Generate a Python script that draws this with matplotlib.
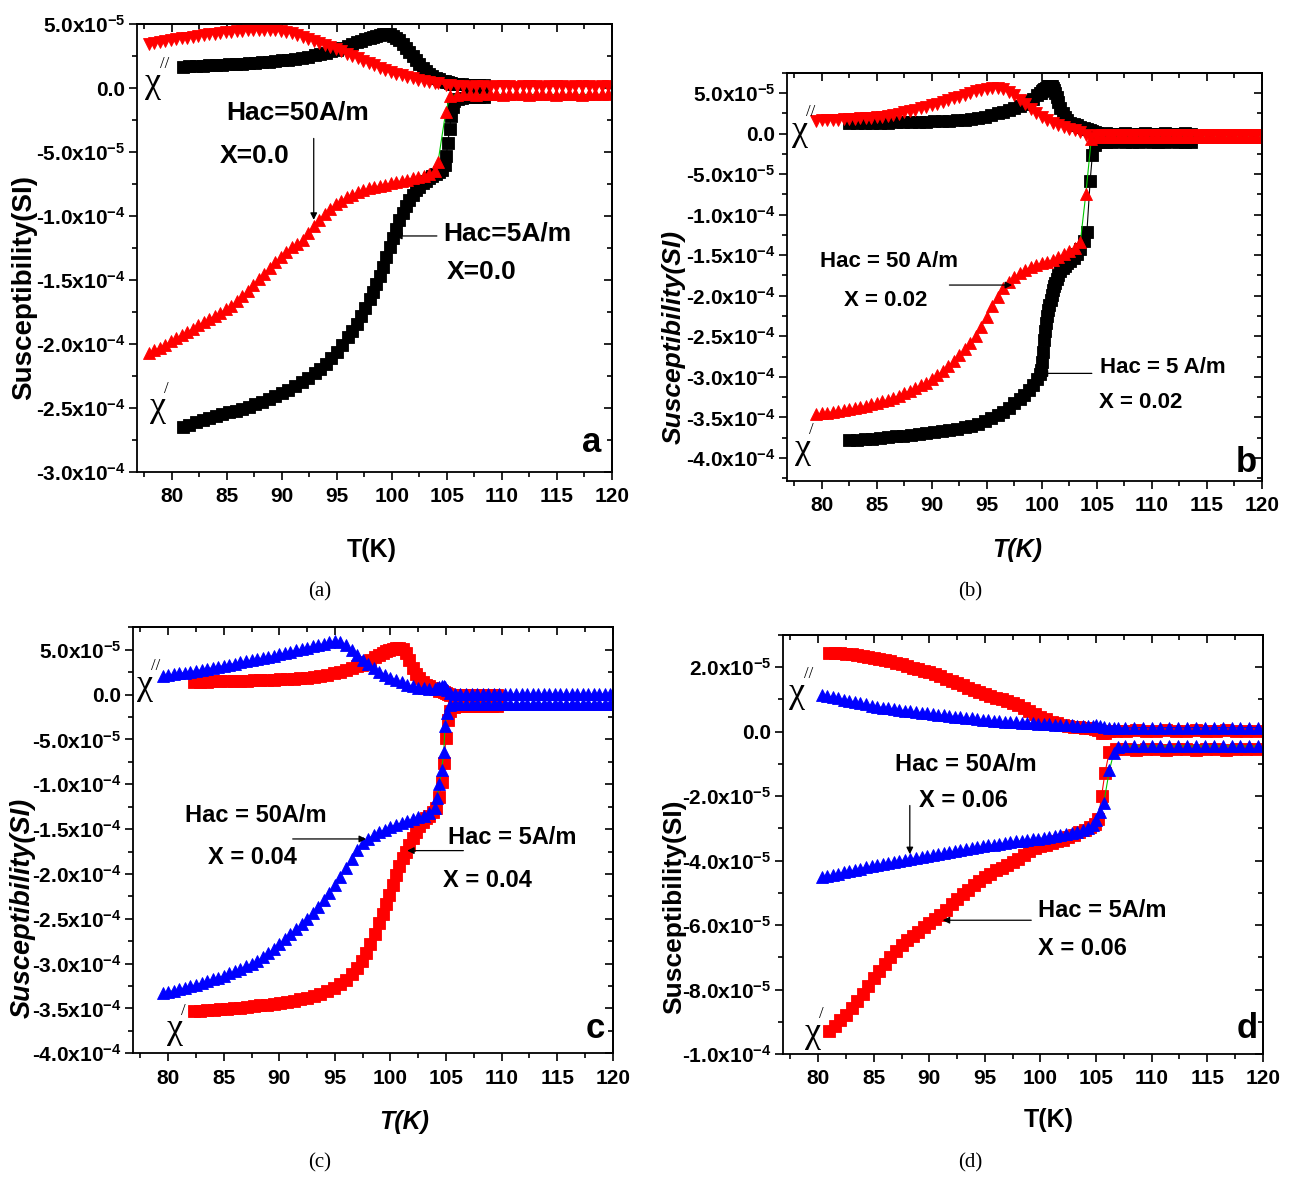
import numpy as np
import matplotlib
matplotlib.use('Agg')
import matplotlib.pyplot as plt
from matplotlib.ticker import MultipleLocator, FuncFormatter
from matplotlib import font_manager as fm

# ---------------- data (susceptibility in units of 1e-5 SI) ----------------
# panel a, X = 0.0
T_a5 = [81.0, 81.6, 82.2, 82.8, 83.4, 84.0, 84.6, 85.2, 85.8, 86.4, 87.0, 87.6, 88.2, 88.8, 89.4, 90.0,
        90.6, 91.2, 91.8, 92.4, 93.0, 93.5, 94.0, 94.5, 95.0, 95.5, 96.0, 96.4, 96.8, 97.2, 97.6, 98.0,
        98.3, 98.6, 98.9, 99.2, 99.5, 99.8, 100.1, 100.4, 100.7, 101.0, 101.3, 101.6, 101.9, 102.2, 102.5,
        102.8, 103.1, 103.4, 103.7, 104.0, 104.3, 104.6, 104.8, 104.95, 105.1, 105.25, 105.4, 105.55,
        105.7, 106.0, 106.4, 106.9, 107.4, 107.9, 108.4]
chi1_a5 = [-26.5, -26.3, -26.1, -25.95, -25.8, -25.65, -25.5, -25.35, -25.2, -25.05, -24.9, -24.7, -24.5,
           -24.3, -24.1, -23.85, -23.6, -23.3, -23.0, -22.65, -22.3, -21.95, -21.55, -21.1, -20.6, -20.05,
           -19.45, -18.95, -18.4, -17.8, -17.15, -16.45, -15.9, -15.3, -14.65, -13.95, -13.2, -12.45, -11.7,
           -11.0, -10.35, -9.75, -9.2, -8.75, -8.35, -8.0, -7.7, -7.45, -7.25, -7.05, -6.9, -6.75, -6.6,
           -6.4, -6.0, -5.3, -4.3, -3.2, -2.2, -1.45, -1.05, -0.85, -0.75, -0.72, -0.7, -0.7, -0.7]
chi2_a5 = [1.67, 1.69, 1.71, 1.73, 1.76, 1.79, 1.82, 1.85, 1.88, 1.91, 1.94, 1.98, 2.02, 2.06, 2.1, 2.15,
           2.21, 2.28, 2.36, 2.45, 2.56, 2.66, 2.77, 2.88, 3.0, 3.13, 3.28, 3.42, 3.56, 3.69, 3.8, 3.92,
           4.02, 4.1, 4.17, 4.22, 4.24, 4.2, 4.1, 3.94, 3.72, 3.45, 3.15, 2.82, 2.5, 2.18, 1.88, 1.6, 1.35,
           1.12, 0.94, 0.8, 0.68, 0.58, 0.52, 0.48, 0.44, 0.4, 0.37, 0.34, 0.32, 0.3, 0.28, 0.26, 0.25,
           0.24, 0.24]

T_a50 = [77.9, 78.4, 78.9, 79.4, 79.9, 80.4, 80.9, 81.4, 81.9, 82.4, 82.9, 83.4, 83.9, 84.4, 84.9, 85.4,
         85.9, 86.4, 86.9, 87.4, 87.9, 88.4, 88.9, 89.4, 89.9, 90.4, 90.9, 91.4, 91.9, 92.4, 92.9, 93.4,
         93.9, 94.4, 94.9, 95.4, 95.9, 96.4, 96.9, 97.4, 97.9, 98.4, 98.9, 99.4, 99.9, 100.4, 100.9, 101.4,
         101.9, 102.4, 102.9, 103.4, 103.9, 104.2, 104.9, 105.3, 105.9, 106.5, 107.1, 107.7, 108.3, 108.9,
         109.5, 110.1, 110.7, 111.3, 111.9, 112.5, 113.1, 113.7, 114.3, 114.9, 115.5, 116.1, 116.7, 117.3,
         117.9, 118.5, 119.1, 119.7]
chi1_a50 = [-20.7, -20.5, -20.3, -20.05, -19.8, -19.55, -19.3, -19.05, -18.8, -18.55, -18.3, -18.05, -17.8,
            -17.55, -17.3, -17.0, -16.65, -16.25, -15.85, -15.4, -14.95, -14.5, -14.05, -13.6, -13.2, -12.8,
            -12.45, -12.2, -11.85, -11.3, -10.8, -10.3, -9.85, -9.45, -9.1, -8.8, -8.55, -8.35, -8.15, -8.0,
            -7.85, -7.75, -7.65, -7.55, -7.45, -7.35, -7.25, -7.15, -7.05, -6.95, -6.85, -6.7, -6.5, -5.8,
            -1.9, -0.6, -0.52, -0.5, -0.5, -0.51, -0.5, -0.5, -0.5, -0.51, -0.5, -0.5, -0.5, -0.51, -0.5,
            -0.5, -0.5, -0.51, -0.5, -0.5, -0.5, -0.51, -0.5, -0.5, -0.5, -0.5]
chi2_a50 = [3.45, 3.55, 3.63, 3.7, 3.76, 3.82, 3.88, 3.94, 4.0, 4.06, 4.12, 4.18, 4.24, 4.3, 4.35, 4.4,
            4.45, 4.49, 4.52, 4.54, 4.55, 4.55, 4.53, 4.5, 4.45, 4.38, 4.28, 4.16, 4.02, 3.86, 3.7, 3.53,
            3.36, 3.2, 3.03, 2.86, 2.68, 2.5, 2.32, 2.14, 1.96, 1.78, 1.6, 1.42, 1.26, 1.11, 0.98, 0.86,
            0.75, 0.65, 0.55, 0.47, 0.4, 0.36, 0.25, 0.2, 0.12, 0.12, 0.11, 0.12, 0.12, 0.11, 0.12, 0.12,
            0.12, 0.11, 0.12, 0.12, 0.12, 0.11, 0.12, 0.12, 0.12, 0.11, 0.12, 0.12, 0.12, 0.11, 0.12, 0.12]

# panel b, X = 0.02
T_b5 = [82.5, 83.2, 83.9, 84.6, 85.3, 86.0, 86.7, 87.4, 88.1, 88.8, 89.5, 90.2, 90.9, 91.6, 92.3, 93.0,
        93.6, 94.2, 94.8, 95.4, 96.0, 96.5, 97.0, 97.5, 98.0, 98.4, 98.8, 99.2, 99.6, 99.8, 99.9, 100.0,
        100.1, 100.2, 100.3, 100.4, 100.5, 100.6, 100.7, 100.8, 100.9, 101.0, 101.1, 101.2, 101.35, 101.5,
        101.7, 101.9, 102.1, 102.3, 102.6, 102.9, 103.2, 103.5, 103.8, 104.1, 104.4, 104.6, 104.8, 105.0,
        105.3, 105.8, 106.4, 107.0, 107.6, 108.2, 108.8, 109.4, 110.0, 110.6, 111.2, 111.8, 112.4, 113.0,
        113.6]
chi1_b5 = [-37.8, -37.75, -37.7, -37.65, -37.55, -37.45, -37.35, -37.25, -37.15, -37.05, -36.95, -36.85,
           -36.7, -36.55, -36.4, -36.2, -36.0, -35.75, -35.45, -35.1, -34.7, -34.3, -33.8, -33.25, -32.7,
           -32.2, -31.6, -31.0, -30.3, -29.7, -29.2, -28.2, -26.9, -25.5, -24.3, -23.3, -22.5, -21.8, -21.1,
           -20.5, -19.9, -19.3, -18.8, -18.4, -17.9, -17.5, -17.0, -16.6, -16.3, -16.0, -15.7, -15.35,
           -14.9, -14.2, -13.3, -12.2, -5.8, -2.6, -1.4, -1.1, -1.0, -1.0, -1.0, -0.98, -1.0, -1.0, -1.0,
           -0.98, -1.0, -1.0, -1.0, -0.98, -1.0, -1.0, -1.0]
chi2_b5 = [1.25, 1.27, 1.29, 1.31, 1.33, 1.35, 1.37, 1.39, 1.41, 1.44, 1.47, 1.5, 1.54, 1.58, 1.63, 1.7,
           1.8, 1.95, 2.1, 2.3, 2.5, 2.65, 2.85, 3.1, 3.4, 3.65, 3.95, 4.3, 4.75, 4.95, 5.05, 5.2, 5.35,
           5.45, 5.55, 5.65, 5.75, 5.8, 5.85, 5.85, 5.8, 5.65, 5.4, 5.05, 4.5, 3.9, 3.2, 2.5, 2.0, 1.65,
           1.35, 1.15, 1.0, 0.85, 0.72, 0.6, 0.45, 0.3, 0.15, 0.05, 0.0, 0.02, 0.0, 0.0, 0.02, 0.0, 0.0,
           0.02, 0.0, 0.0, 0.02, 0.0, 0.0, 0.02, 0.0]

T_b50 = [79.5, 80.0, 80.5, 81.0, 81.5, 82.0, 82.5, 83.0, 83.5, 84.0, 84.5, 85.0, 85.5, 86.0, 86.5, 87.0,
         87.5, 88.0, 88.5, 89.0, 89.5, 90.0, 90.5, 91.0, 91.5, 92.0, 92.5, 93.0, 93.5, 94.0, 94.5, 95.0,
         95.5, 96.0, 96.5, 97.0, 97.5, 98.0, 98.5, 99.0, 99.5, 100.0, 100.5, 101.0, 101.5, 102.0, 102.5,
         103.0, 103.5, 104.0, 104.5, 105.0, 105.5, 106.0, 106.5, 107.0, 107.5, 108.0, 108.5, 109.0, 109.5,
         110.0, 110.5, 111.0, 111.5, 112.0, 112.5, 113.0, 113.5, 114.0, 114.5, 115.0, 115.5, 116.0, 116.5,
         117.0, 117.5, 118.0, 118.5, 119.0, 119.5, 120.0]
chi1_b50 = [-34.6, -34.5, -34.4, -34.3, -34.2, -34.1, -34.0, -33.85, -33.7, -33.55, -33.4, -33.2, -33.0,
            -32.8, -32.55, -32.3, -32.0, -31.7, -31.4, -31.05, -30.7, -30.3, -29.8, -29.25, -28.65, -28.0,
            -27.3, -26.6, -25.8, -24.9, -23.8, -22.6, -21.3, -20.1, -19.1, -18.3, -17.7, -17.2, -16.8,
            -16.45, -16.2, -16.0, -15.8, -15.55, -15.25, -14.9, -14.5, -14.1, -13.4, -7.5, -0.7,
            -0.45, -0.45, -0.46, -0.45, -0.45, -0.45, -0.46, -0.45, -0.45, -0.45, -0.46, -0.45, -0.45, -0.45,
            -0.46, -0.45, -0.45, -0.45, -0.46, -0.45, -0.45, -0.45, -0.46, -0.45, -0.45, -0.45, -0.46,
            -0.45, -0.45, -0.45, -0.45]
chi2_b50 = [1.6, 1.63, 1.66, 1.69, 1.72, 1.75, 1.79, 1.83, 1.87, 1.92, 1.97, 2.02, 2.1, 2.2, 2.32, 2.45,
            2.6, 2.76, 2.93, 3.1, 3.28, 3.47, 3.67, 3.88, 4.1, 4.32, 4.55, 4.78, 5.0, 5.2, 5.38, 5.52, 5.6,
            5.6, 5.45, 5.15, 4.7, 4.15, 3.6, 3.05, 2.55, 2.1, 1.7, 1.35, 1.05, 0.8, 0.58, 0.4, 0.2, -0.2,
            -0.5, -0.15, -0.15, -0.14, -0.15, -0.15, -0.15, -0.14, -0.15, -0.15, -0.15, -0.14, -0.15,
            -0.15, -0.15, -0.14, -0.15, -0.15, -0.15, -0.14, -0.15, -0.15, -0.15, -0.14, -0.15, -0.15,
            -0.15, -0.14, -0.15, -0.15, -0.15, -0.15]

# panel c, X = 0.04
T_c5 = [82.3, 82.9, 83.5, 84.1, 84.7, 85.3, 85.9, 86.5, 87.1, 87.7, 88.3, 88.9, 89.5, 90.1, 90.7, 91.3,
        91.9, 92.5, 93.1, 93.7, 94.3, 94.9, 95.5, 96.0, 96.5, 97.0, 97.4, 97.8, 98.2, 98.6, 99.0, 99.3,
        99.6, 99.9, 100.2, 100.5, 100.8, 101.1, 101.4, 101.7, 102.0, 102.3, 102.6, 102.9, 103.2, 103.5,
        103.8, 104.1, 104.4, 104.6, 104.8, 105.0, 105.2, 105.4, 105.7, 106.1, 106.6, 107.1, 107.6, 108.1,
        108.6, 109.1, 109.6]
chi1_c5 = [-35.3, -35.25, -35.2, -35.15, -35.1, -35.05, -34.98, -34.9, -34.82, -34.74, -34.66, -34.57,
           -34.48, -34.38, -34.27, -34.15, -34.0, -33.85, -33.65, -33.4, -33.1, -32.75, -32.3, -31.8,
           -31.2, -30.45, -29.7, -28.8, -27.8, -26.7, -25.5, -24.5, -23.4, -22.3, -21.2, -20.1, -19.1,
           -18.2, -17.5, -16.8, -16.0, -15.3, -14.7, -14.2, -13.8, -13.5, -13.1, -12.6, -11.4, -9.8, -7.6,
           -4.8, -2.8, -1.8, -1.4, -1.25, -1.25, -1.26, -1.25, -1.25, -1.26, -1.25, -1.25]
chi2_c5 = [1.4, 1.42, 1.44, 1.46, 1.48, 1.5, 1.52, 1.54, 1.56, 1.58, 1.6, 1.63, 1.66, 1.7, 1.74, 1.78,
           1.83, 1.89, 1.96, 2.06, 2.2, 2.38, 2.55, 2.72, 2.92, 3.15, 3.35, 3.6, 3.85, 4.15, 4.45, 4.65,
           4.85, 5.0, 5.1, 5.15, 5.15, 5.05, 4.6, 3.8, 2.95, 2.3, 1.8, 1.4, 1.1, 0.9, 0.75, 0.6, 0.45,
           0.35, 0.25, 0.15, 0.05, 0.0, -0.05, -0.05, -0.05, -0.06, -0.05, -0.05, -0.06, -0.05, -0.05]

T_c50 = [79.5, 80.0, 80.5, 81.0, 81.5, 82.0, 82.5, 83.0, 83.5, 84.0, 84.5, 85.0, 85.5, 86.0, 86.5, 87.0,
         87.5, 88.0, 88.5, 89.0, 89.5, 90.0, 90.5, 91.0, 91.5, 92.0, 92.5, 93.0, 93.5, 94.0, 94.5, 95.0,
         95.5, 96.0, 96.5, 97.0, 97.5, 98.0, 98.5, 99.0, 99.5, 100.0, 100.5, 101.0, 101.5, 102.0, 102.5,
         103.0, 103.5, 104.0, 104.2, 104.4, 104.6, 104.8, 104.9, 105.1, 105.4, 105.8, 106.3, 106.8, 107.3,
         107.8, 108.3, 108.8, 109.3, 109.8, 110.3, 110.8, 111.3, 111.8, 112.3, 112.8, 113.3, 113.8, 114.3,
         114.8, 115.3, 115.8, 116.3, 116.8, 117.3, 117.8, 118.3, 118.8, 119.3, 119.8]
chi1_c50 = [-33.3, -33.15, -33.0, -32.85, -32.7, -32.55, -32.35, -32.15, -31.95, -31.75, -31.55, -31.35,
            -31.1, -30.85, -30.6, -30.3, -30.0, -29.7, -29.3, -28.85, -28.35, -27.8, -27.25, -26.7, -26.15,
            -25.6, -25.0, -24.35, -23.65, -22.9, -22.1, -21.25, -20.3, -19.3, -18.3, -17.35, -16.6, -16.05,
            -15.65, -15.35, -15.05, -14.75, -14.5, -14.3, -14.1, -13.9, -13.7, -13.5, -13.2, -12.6, -11.5,
            -10.0, -8.4, -6.4, -3.5, -2.1, -1.2, -1.0, -1.0, -1.02, -1.0, -1.0, -1.0, -1.02, -1.0, -1.0,
            -1.0, -1.02, -1.0, -1.0, -1.0, -1.02, -1.0, -1.0, -1.0, -1.02, -1.0, -1.0, -1.0, -1.02, -1.0,
            -1.0, -1.0, -1.02, -1.0, -1.0]
chi2_c50 = [2.05, 2.15, 2.25, 2.35, 2.45, 2.55, 2.65, 2.76, 2.87, 2.98, 3.1, 3.22, 3.34, 3.46, 3.58, 3.7,
            3.82, 3.95, 4.08, 4.21, 4.35, 4.49, 4.63, 4.77, 4.92, 5.07, 5.22, 5.37, 5.52, 5.68, 5.85, 5.95,
            5.85, 5.5, 5.0, 4.45, 3.9, 3.4, 2.95, 2.55, 2.2, 1.9, 1.6, 1.35, 1.1, 0.9, 0.78, 0.7, 0.65,
            0.65, 0.7, 0.8, 0.9, 0.95, 0.85, 0.5, 0.2, 0.05, 0.05, 0.06, 0.05, 0.05, 0.05, 0.06, 0.05,
            0.05, 0.05, 0.06, 0.05, 0.05, 0.05, 0.06, 0.05, 0.05, 0.05, 0.06, 0.05, 0.05, 0.05, 0.06, 0.05,
            0.05, 0.05, 0.06, 0.05, 0.05]

# panel d, X = 0.06
T_d5 = [81.0, 81.5, 82.0, 82.5, 83.0, 83.5, 84.0, 84.5, 85.0, 85.5, 86.0, 86.5, 87.0, 87.5, 88.0, 88.5,
        89.0, 89.5, 90.0, 90.5, 91.0, 91.5, 92.0, 92.5, 93.0, 93.5, 94.0, 94.5, 95.0, 95.5, 96.0, 96.5,
        97.0, 97.5, 98.0, 98.5, 99.0, 99.5, 100.0, 100.5, 101.0, 101.5, 102.0, 102.5, 103.0, 103.5, 104.0,
        104.5, 104.9, 105.2, 105.5, 105.8, 106.2, 106.8, 107.7, 108.6, 109.5, 110.4, 111.3, 112.2, 113.1,
        114.0, 114.9, 115.8, 116.7, 117.6, 118.5, 119.4]
chi1_d5 = [-9.3, -9.12, -8.95, -8.78, -8.58, -8.37, -8.15, -7.9, -7.65, -7.42, -7.2, -7.0, -6.8, -6.63,
           -6.47, -6.33, -6.2, -6.07, -5.95, -5.82, -5.7, -5.52, -5.35, -5.2, -5.05, -4.9, -4.75, -4.62,
           -4.5, -4.4, -4.3, -4.22, -4.15, -4.05, -3.95, -3.82, -3.7, -3.62, -3.55, -3.5, -3.45, -3.4,
           -3.35, -3.28, -3.2, -3.12, -3.05, -2.95, -2.85, -2.7, -2.0, -1.28, -0.62, -0.55, -0.55, -0.56,
           -0.55, -0.55, -0.56, -0.55, -0.55, -0.56, -0.55, -0.55, -0.56, -0.55, -0.55, -0.55]
chi2_d5 = [2.44, 2.44, 2.43, 2.42, 2.41, 2.39, 2.36, 2.33, 2.3, 2.26, 2.22, 2.18, 2.14, 2.09, 2.04, 1.99,
           1.94, 1.89, 1.84, 1.78, 1.72, 1.65, 1.58, 1.51, 1.44, 1.37, 1.3, 1.23, 1.16, 1.1, 1.05, 1.0,
           0.96, 0.9, 0.82, 0.72, 0.63, 0.54, 0.46, 0.38, 0.31, 0.26, 0.22, 0.19, 0.16, 0.14, 0.12, 0.1,
           0.08, 0.05, -0.05, -0.03, 0.02, 0.03, 0.03, 0.04, 0.03, 0.03, 0.04, 0.03, 0.03, 0.04, 0.03,
           0.03, 0.04, 0.03, 0.03, 0.03]

T_d50 = [80.3, 80.8, 81.3, 81.8, 82.3, 82.8, 83.3, 83.8, 84.3, 84.8, 85.3, 85.8, 86.3, 86.8, 87.3, 87.8,
         88.3, 88.8, 89.3, 89.8, 90.3, 90.8, 91.3, 91.8, 92.3, 92.8, 93.3, 93.8, 94.3, 94.8, 95.3, 95.8,
         96.3, 96.8, 97.3, 97.8, 98.3, 98.8, 99.3, 99.8, 100.3, 100.8, 101.3, 101.8, 102.3, 102.8, 103.3,
         103.8, 104.3, 104.7, 105.0, 105.4, 105.7, 106.2, 106.6, 107.0, 107.6, 108.4, 109.2, 110.0, 110.8,
         111.6, 112.4, 113.2, 114.0, 114.8, 115.6, 116.4, 117.2, 118.0, 118.8, 119.6]
chi1_d50 = [-4.52, -4.48, -4.44, -4.4, -4.36, -4.33, -4.29, -4.25, -4.21, -4.17, -4.13, -4.1, -4.07, -4.04,
            -4.01, -3.98, -3.95, -3.92, -3.89, -3.86, -3.83, -3.8, -3.77, -3.74, -3.71, -3.68, -3.65, -3.62,
            -3.59, -3.56, -3.53, -3.5, -3.48, -3.45, -3.43, -3.4, -3.38, -3.36, -3.34, -3.32, -3.29, -3.27,
            -3.24, -3.21, -3.18, -3.14, -3.1, -3.05, -2.98, -2.9, -2.75, -2.5, -2.2, -1.2, -0.65, -0.48,
            -0.44, -0.44, -0.45, -0.44, -0.44, -0.45, -0.44, -0.44, -0.45, -0.44, -0.44, -0.45, -0.44,
            -0.44, -0.45, -0.44]
chi2_d50 = [1.15, 1.11, 1.07, 1.03, 0.99, 0.96, 0.92, 0.88, 0.85, 0.81, 0.78, 0.75, 0.72, 0.7, 0.68, 0.65,
            0.63, 0.61, 0.59, 0.57, 0.55, 0.53, 0.51, 0.49, 0.47, 0.45, 0.43, 0.41, 0.39, 0.37, 0.35, 0.33,
            0.32, 0.31, 0.3, 0.29, 0.28, 0.27, 0.26, 0.25, 0.24, 0.23, 0.22, 0.21, 0.2, 0.2, 0.19, 0.19,
            0.18, 0.18, 0.2, 0.17, 0.14, 0.12, 0.12, 0.12, 0.12, 0.12, 0.13, 0.12, 0.12, 0.13, 0.12, 0.12,
            0.13, 0.12, 0.12, 0.13, 0.12, 0.12, 0.13, 0.12]

# ---------------- fonts ----------------
try:
    fm.findfont(fm.FontProperties(family='Liberation Sans Narrow', weight='bold'), fallback_to_default=False)
    TICK_FONT, TICK_SIZE = 'Liberation Sans Narrow', 17.5
except ValueError:
    TICK_FONT, TICK_SIZE = 'Liberation Sans', 15

plt.rcParams['font.family'] = [TICK_FONT, 'DejaVu Sans']
plt.rcParams['font.weight'] = 'bold'
plt.rcParams['mathtext.fontset'] = 'custom'
plt.rcParams['mathtext.rm'] = TICK_FONT + ':bold'
plt.rcParams['mathtext.it'] = TICK_FONT + ':bold'
plt.rcParams['mathtext.bf'] = TICK_FONT + ':bold'
plt.rcParams['mathtext.default'] = 'rm'

SANS = 'Liberation Sans'
SERIF = 'Liberation Serif'
W, H = 1291, 1178
GREEN = '#00c800'
MS_SQ, MS_TRI = 8.5, 9


def sci_label(v, pos):
    if abs(v) < 1e-12:
        return '0.0'
    e = int(np.floor(np.log10(abs(v)) + 1e-9))
    sign = '-' if v < 0 else ''
    return '%s%.1fx10$^{%d}$' % (sign, abs(v) / 10.0 ** e, e)


def make_axes(px_box, ylim, ymaj, ymin):
    left, top, right, bottom = px_box
    ax = fig.add_axes([left / W, 1 - bottom / H, (right - left) / W, (bottom - top) / H])
    ax.set_xlim(76.8, 120)
    ax.set_ylim(*ylim)
    ax.xaxis.set_major_locator(MultipleLocator(5))
    ax.xaxis.set_minor_locator(MultipleLocator(2.5))
    ax.yaxis.set_major_locator(MultipleLocator(ymaj))
    ax.yaxis.set_minor_locator(MultipleLocator(ymin))
    ax.xaxis.set_major_formatter(FuncFormatter(lambda v, p: '%d' % round(v)))
    ax.yaxis.set_major_formatter(FuncFormatter(sci_label))
    ax.tick_params(which='both', direction='out', top=False, right=False, width=1.2,
                   labelsize=TICK_SIZE)
    ax.tick_params(which='major', length=6)
    ax.tick_params(which='minor', length=3.5)
    ax.tick_params(axis='x', pad=5)
    ax.tick_params(axis='y', pad=2)
    for s in ax.spines.values():
        s.set_linewidth(1.3)
    # inward ticks on top and right like Origin
    secx = ax.secondary_xaxis('top')
    secx.xaxis.set_major_locator(MultipleLocator(5))
    secx.xaxis.set_minor_locator(MultipleLocator(2.5))
    secx.tick_params(which='both', direction='in', labeltop=False, width=1.2)
    secx.tick_params(which='major', length=6)
    secx.tick_params(which='minor', length=3.5)
    secx.spines['top'].set_linewidth(1.3)
    secy = ax.secondary_yaxis('right')
    secy.yaxis.set_major_locator(MultipleLocator(ymaj))
    secy.yaxis.set_minor_locator(MultipleLocator(ymin))
    secy.tick_params(which='both', direction='in', labelright=False, width=1.2)
    secy.tick_params(which='major', length=6)
    secy.tick_params(which='minor', length=3.5)
    secy.spines['right'].set_linewidth(1.3)
    return ax


def draw(ax, T, chi, marker, color, line, ms):
    ax.plot(T, np.array(chi) * 1e-5, color=line, lw=0.8, marker=marker, ms=ms,
            mfc=color, mec=color, mew=0.6)


def chi_labels(ax, p2, p1):
    ax.text(p2[0], p2[1] * 1e-5, 'χ', family=SERIF, weight='normal', fontsize=26, ha='center', va='center')
    ax.annotate('//', (p2[0], p2[1] * 1e-5), xytext=(8, 14), textcoords='offset points',
                family=SERIF, weight='normal', fontsize=12, ha='center', va='center')
    ax.text(p1[0], p1[1] * 1e-5, 'χ', family=SERIF, weight='normal', fontsize=26, ha='center', va='center')
    ax.annotate('/', (p1[0], p1[1] * 1e-5), xytext=(6, 14), textcoords='offset points',
                family=SERIF, weight='normal', fontsize=12, ha='center', va='center')


def notes(ax, items, size):
    for txt, x, y in items:
        ax.text(x, y * 1e-5, txt, family=SANS, weight='bold', fontsize=size, ha='left', va='center')


def arrow(ax, tail, tip):
    ax.annotate('', xy=(tip[0], tip[1] * 1e-5), xytext=(tail[0], tail[1] * 1e-5),
                arrowprops=dict(arrowstyle='-|>', color='black', lw=0.9, mutation_scale=10,
                                shrinkA=0, shrinkB=0))


def labels(ax, letter, lx, ly, ylab, xlab, cap, style, ysize):
    ax.text(lx, ly, letter, transform=ax.transAxes, family=SANS, weight='bold', fontsize=25,
            ha='right', va='baseline')
    fig.text(ylab[0] / W, 1 - ylab[1] / H, 'Susceptibility(SI)', rotation=90, family=SANS,
             weight='bold', style=style, fontsize=ysize, ha='center', va='center')
    fig.text(xlab[0] / W, 1 - xlab[1] / H, 'T(K)', family=SANS, weight='bold', style=style,
             fontsize=18, ha='center', va='center')
    fig.text(cap[0] / W, 1 - cap[1] / H, cap[2], family=SERIF, weight='normal', fontsize=15,
             ha='center', va='center')


fig = plt.figure(figsize=(W / 100, H / 100), dpi=100, facecolor='white')

# ---- (a)
ax = make_axes((136.7, 24, 611.7, 472), (-3e-4, 5e-5), 5e-5, 2.5e-5)
draw(ax, T_a5, chi2_a5, 's', 'black', 'black', MS_SQ)
draw(ax, T_a5, chi1_a5, 's', 'black', 'black', MS_SQ)
draw(ax, T_a50, chi2_a50, 'v', 'red', 'red', MS_TRI)
draw(ax, T_a50, chi1_a50, '^', 'red', GREEN, MS_TRI)
chi_labels(ax, (78.3, 0.33), (78.7, -25.0))
notes(ax, [('Hac=50A/m', 84.9, -1.93), ('X=0.0', 84.4, -5.34),
           ('Hac=5A/m', 104.7, -11.4), ('X=0.0', 105.0, -14.4)], 19)
arrow(ax, (92.9, -3.94), (92.9, -10.3))
arrow(ax, (104.1, -11.56), (100.3, -11.56))
labels(ax, 'a', 0.977, 0.045, (24.5, 288), (371.5, 550), (320, 592, '(a)'), 'normal', 20)

# ---- (b)
ax = make_axes((786.7, 72.7, 1261.7, 480.7), (-4.28e-4, 7.5e-5), 5e-5, 2.5e-5)
draw(ax, T_b5, chi2_b5, 's', 'black', 'black', MS_SQ)
draw(ax, T_b5, chi1_b5, 's', 'black', 'black', MS_SQ)
draw(ax, T_b50, chi2_b50, 'v', 'red', 'red', MS_TRI)
draw(ax, T_b50, chi1_b50, '^', 'red', GREEN, MS_TRI)
chi_labels(ax, (78.0, 0.28), (78.3, -39.0))
notes(ax, [('Hac = 50 A/m', 79.83, -15.73), ('X = 0.02', 82.0, -20.6),
           ('Hac = 5 A/m', 105.3, -28.9), ('X = 0.02', 105.2, -33.1)], 16)
arrow(ax, (91.6, -18.68), (97.3, -18.68))
arrow(ax, (104.55, -29.57), (99.9, -29.57))
labels(ax, 'b', 0.99, 0.021, (674, 337.5), (1017.5, 550), (970, 592, '(b)'), 'italic', 19)

# ---- (c)
ax = make_axes((132.7, 627.3, 612.7, 1053.3), (-4e-4, 7.5e-5), 5e-5, 2.5e-5)
draw(ax, T_c5, chi2_c5, 's', 'red', 'red', MS_SQ)
draw(ax, T_c5, chi1_c5, 's', 'red', 'red', MS_SQ)
draw(ax, T_c50, chi2_c50, '^', 'blue', 'blue', MS_TRI)
draw(ax, T_c50, chi1_c50, '^', 'blue', GREEN, MS_TRI)
chi_labels(ax, (77.9, 1.05), (80.6, -37.4))
notes(ax, [('Hac = 50A/m', 81.5, -13.5), ('X = 0.04', 83.6, -18.2),
           ('Hac = 5A/m', 105.2, -15.9), ('X = 0.04', 104.75, -20.7)], 17)
arrow(ax, (91.2, -16.1), (97.8, -16.1))
arrow(ax, (106.56, -17.4), (101.5, -17.4))
labels(ax, 'c', 0.984, 0.036, (22.4, 908), (404, 1122), (320, 1163, '(c)'), 'italic', 19.5)

# ---- (d)
ax = make_axes((782.7, 635, 1262.7, 1054), (-1e-4, 3e-5), 2e-5, 1e-5)
draw(ax, T_d5, chi2_d5, 's', 'red', 'red', MS_SQ)
draw(ax, T_d5, chi1_d5, 's', 'red', 'red', MS_SQ)
draw(ax, T_d50, chi2_d50, '^', 'blue', 'blue', MS_TRI)
draw(ax, T_d50, chi1_d50, '^', 'blue', GREEN, MS_TRI)
chi_labels(ax, (78.1, 1.19), (79.5, -9.35))
notes(ax, [('Hac = 50A/m', 86.87, -1.006), ('X = 0.06', 89.08, -2.12),
           ('Hac = 5A/m', 99.8, -5.56), ('X = 0.06', 99.8, -6.74)], 17)
arrow(ax, (88.24, -2.29), (88.24, -3.80))
arrow(ax, (99.17, -5.85), (91.2, -5.85))
labels(ax, 'd', 0.99, 0.038, (674.7, 907), (1048.5, 1120), (970, 1163, '(d)'), 'normal', 19)

fig.savefig('out.png', dpi=100, facecolor='white')
